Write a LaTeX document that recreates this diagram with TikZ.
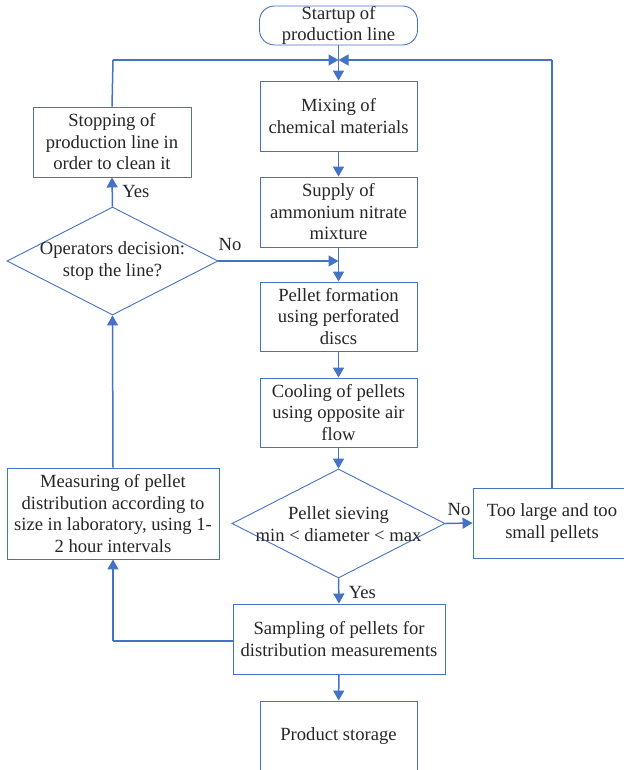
\documentclass[tikz,border=0pt]{standalone}
\usepackage{fontspec}
\setmainfont{Liberation Serif}
\newfontfamily\tnr{Liberation Serif}
\usetikzlibrary{shapes.geometric,arrows.meta}
\definecolor{lblue}{HTML}{4472C4}
\begin{document}
\begin{tikzpicture}[x=1pt,y=-1pt,
  every node/.style={font=\tnr\fontsize{18.6}{21.5}\selectfont, text=black!85},
  box/.style={draw=lblue, line width=0.9pt, rectangle, inner sep=0pt, align=center},
  dia/.style={draw=lblue, line width=0.9pt, diamond, inner sep=0pt},
  txt/.style={align=center, inner sep=0pt},
  conn/.style={draw=lblue, line width=1.5pt, -{Triangle[length=10pt,width=11pt]}},
  line/.style={draw=lblue, line width=1.5pt}]
\useasboundingbox (0,0) rectangle (623,770);

\node[box, rounded corners=15pt, minimum width=158, minimum height=39] (start) at (338.5,25.5) {Startup of\\production line};
\node[box, minimum width=157, minimum height=70] (mix) at (338.5,116) {Mixing of\\chemical materials};
\node[box, minimum width=157, minimum height=70] (sup) at (338.5,212) {Supply of\\ammonium nitrate\\mixture};
\node[box, minimum width=157, minimum height=69] (form) at (338.5,316.5) {Pellet formation\\using perforated\\discs};
\node[box, minimum width=157, minimum height=69] (cool) at (338.5,412.5) {Cooling of pellets\\using opposite air\\flow};
\node[dia, minimum width=213, minimum height=109] (sieve) at (338.5,523.5) {};
\node[txt] (sievet) at (338.5,524) {Pellet sieving\\min < diameter < max};
\node[box, minimum width=212, minimum height=70] (samp) at (339,639) {Sampling of pellets for\\distribution measurements};
\node[box, minimum width=157, minimum height=70] (store) at (338.5,736) {Product storage};
\node[box, minimum width=158, minimum height=70] (too) at (552,523) {Too large and too\\small pellets};
\node[box, minimum width=212, minimum height=91] (meas) at (113,513.5) {Measuring of pellet\\distribution according to\\size in laboratory, using 1-\\2 hour intervals};
\node[dia, minimum width=211, minimum height=108] (op) at (112.5,261) {};
\node[txt] (opt) at (112.5,261) {Operators decision:\\stop the line?};
\node[box, minimum width=158, minimum height=70] (stop) at (112,142) {Stopping of\\production line in\\order to clean it};

\coordinate (jtop) at (338.5,60);
\coordinate (jno) at (338.5,261);
\coordinate (lcorner) at (113,60);
\coordinate (rcorner) at (552,60);
\coordinate (bcorner) at (113,641);

% main flow
\draw[conn] (start.south) -- (mix.north);
\draw[conn] (mix) -- (sup);
\draw[conn] (sup) -- (form);
\draw[conn] (form) -- (cool);
\draw[conn] (cool) -- (sieve.north);
\draw[conn] (sieve.south) -- node[right, xshift=6pt, yshift=-1pt] (yes2) {Yes} (samp.north);
\draw[conn] (samp) -- (store);
\draw[conn] (sieve.east) -- node[above, yshift=3pt] (no2) {No} (too.west);

% return from too large
\draw[line] (too.north) -- (rcorner);
\draw[conn] (rcorner) -- (jtop);

% sampling to measuring
\draw[line] (samp.west |- bcorner) -- (bcorner);
\draw[conn] (bcorner) -- (meas.south);
\draw[conn] (meas.north) -- (op.south);
\draw[conn] (op.north) -- node[right, xshift=6pt] (yes1) {Yes} (stop.south);
\draw[line] (stop.north) -- (lcorner);
\draw[conn] (lcorner) -- (jtop);
\draw[conn] (op.east) -- (jno);
\node[inner sep=0pt] (no1) at (230,245) {No};
\end{tikzpicture}
\end{document}
